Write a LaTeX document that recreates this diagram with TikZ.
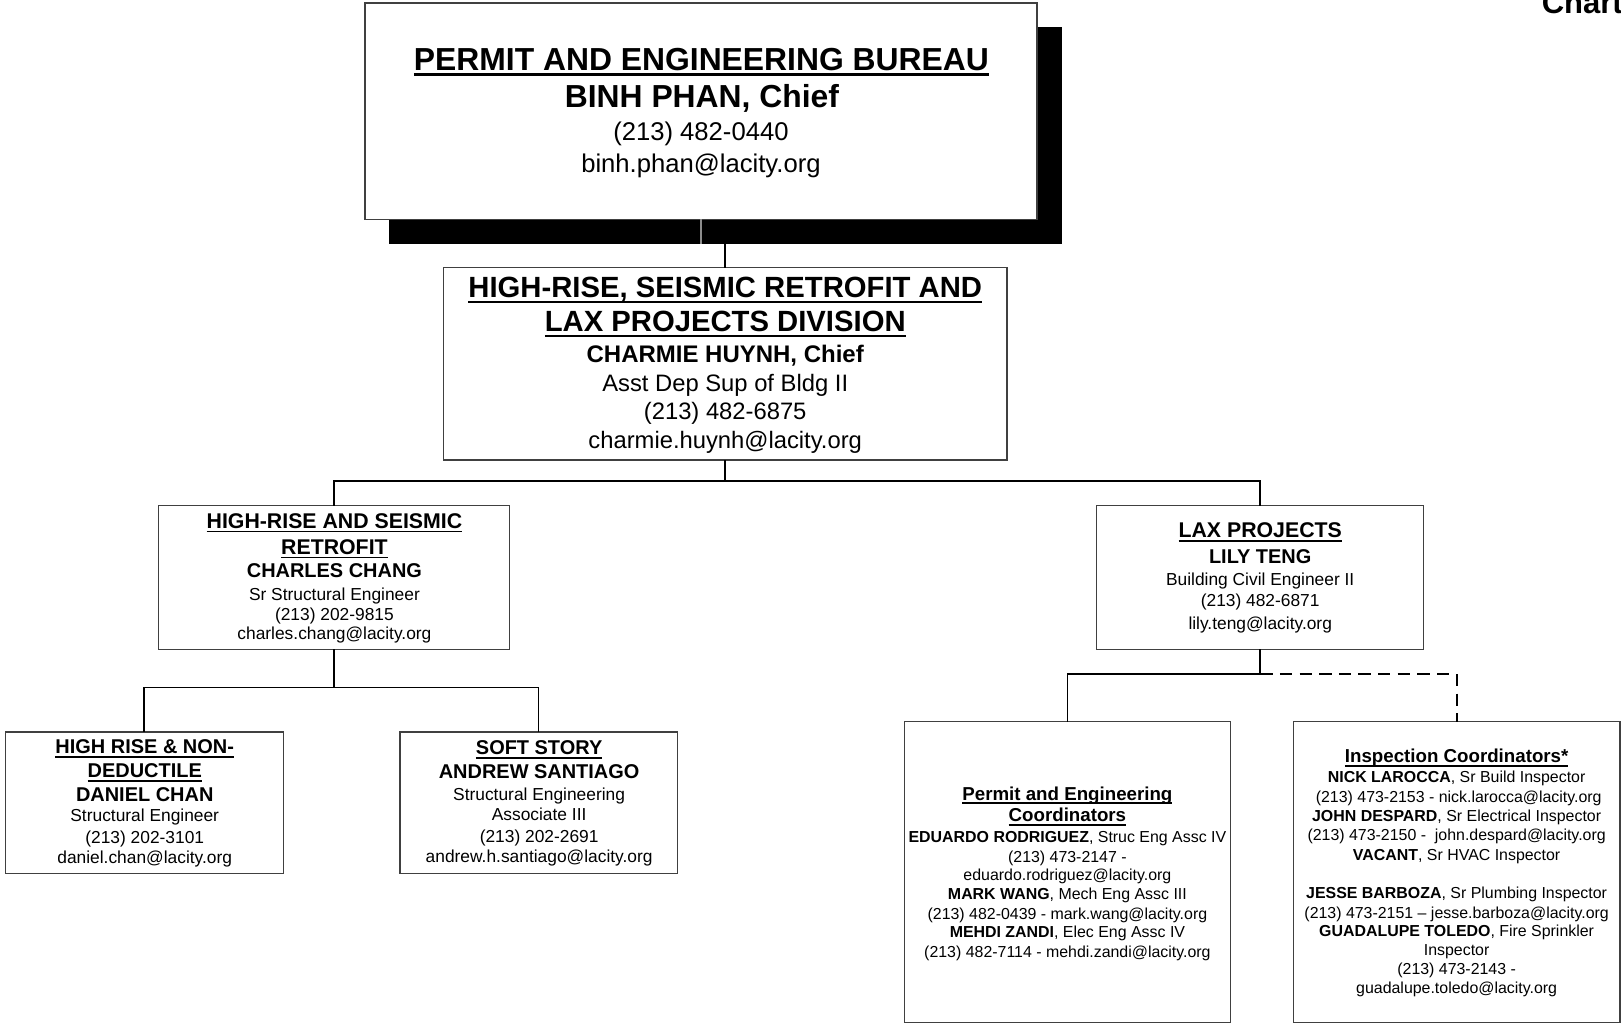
\documentclass[tikz,border=0pt]{standalone}
\usepackage{fontspec}
\setmainfont{Liberation Sans}
\newcommand\fs[1]{\fontsize{#1}{#1}\selectfont}
\newcommand\ulin[3]{\draw[line width=#3] ([yshift=-#2]#1.base west) -- ([yshift=-#2]#1.base east);}
\begin{document}
\begin{tikzpicture}[x=0.5pt,y=-0.5pt,
  box/.style={draw=black!75, line width=0.6pt, fill=white, inner sep=0pt, outer sep=0pt},
  tx/.style={inner sep=0pt, outer sep=0pt, anchor=base},
  conn/.style={draw=black, line width=0.8pt},
  dconn/.style={draw=black, line width=0.9pt, dash pattern=on 6pt off 3.5pt}]
\useasboundingbox (0,0) rectangle (1568,990);
% shadow and top box
\fill[black] (376,26) rectangle (1027,236);
\node[box, minimum width=325pt, minimum height=104.5pt] (bur) at (678,107.5) {};
\coordinate (sb) at (678,236);
\draw[black!45, line width=0.6pt] (bur.south) -- (sb);
\node[tx,font=\bfseries\fs{15.4}] (b1) at (678.5,68) {PERMIT AND ENGINEERING BUREAU};
\node[tx,font=\bfseries\fs{15.4}] (b2) at (679,104) {BINH PHAN, Chief};
\node[tx,font=\fs{12.4}] (b3) at (678,136) {(213) 482-0440};
\node[tx,font=\fs{12.4}] (b4) at (678,167) {binh.phan@lacity.org};
\ulin{b1}{2pt}{1.1pt}
% division
\node[box, minimum width=272.5pt, minimum height=93pt] (div) at (701.5,352) {};
\coordinate (dt) at (701.5,236);
\draw[conn] (dt) -- (div.north);
\node[tx,font=\bfseries\fs{14.15}] (d1) at (701.5,288) {HIGH-RISE, SEISMIC RETROFIT AND};
\node[tx,font=\bfseries\fs{14.15}] (d2) at (701.5,321) {LAX PROJECTS DIVISION};
\node[tx,font=\bfseries\fs{11.6}] (d3) at (701.5,351) {CHARMIE HUYNH, Chief};
\node[tx,font=\fs{11.5}] (d4) at (701.5,379) {Asst Dep Sup of Bldg II};
\node[tx,font=\fs{11.5}] (d5) at (701.5,406) {(213) 482-6875};
\node[tx,font=\fs{11.5}] (d6) at (701.5,434) {charmie.huynh@lacity.org};
\ulin{d1}{2pt}{1pt}
\ulin{d2}{2pt}{1pt}
% second level
\node[box, minimum width=170pt, minimum height=69.5pt] (hsr) at (323,558.5) {};
\node[box, minimum width=158pt, minimum height=69.5pt] (lax) at (1219,558.5) {};
\coordinate (j1) at (701.5,465);
\draw[conn] (div.south) -- (j1);
\draw[conn] (j1) -| (hsr.north);
\draw[conn] (j1) -| (lax.north);
\node[tx,font=\bfseries\fs{10.3}] (h1) at (323.5,511) {HIGH-RISE AND SEISMIC};
\node[tx,font=\bfseries\fs{10.3}] (h2) at (323.5,536) {RETROFIT};
\node[tx,font=\bfseries\fs{9.65}] (h3) at (323.5,559) {CHARLES CHANG};
\node[tx,font=\fs{8.4}] (h4) at (323.5,581) {Sr Structural Engineer};
\node[tx,font=\fs{8.4}] (h5) at (323.5,600) {(213) 202-9815};
\node[tx,font=\fs{8.4}] (h6) at (323.5,619) {charles.chang@lacity.org};
\ulin{h1}{1.6pt}{0.8pt}
\ulin{h2}{1.6pt}{0.8pt}
\node[tx,font=\bfseries\fs{10.3}] (l1) at (1219,520) {LAX PROJECTS};
\node[tx,font=\bfseries\fs{9.65}] (l2) at (1219,545) {LILY TENG};
\node[tx,font=\fs{8.4}] (l3) at (1219,566) {Building Civil Engineer II};
\node[tx,font=\fs{8.4}] (l4) at (1219,587) {(213) 482-6871};
\node[tx,font=\fs{8.4}] (l5) at (1219,609) {lily.teng@lacity.org};
\ulin{l1}{1.6pt}{0.8pt}
% third level left
\node[box, minimum width=134.5pt, minimum height=68.5pt] (hrn) at (139.5,776.5) {};
\node[box, minimum width=134pt, minimum height=68.5pt] (ss) at (521,776.5) {};
\coordinate (j2) at (323,665);
\draw[conn] (hsr.south) -- (j2);
\draw[conn] (j2) -| (hrn.north);
\draw[conn] (j2) -| (ss.north);
\node[tx,font=\bfseries\fs{9.65}] (r1) at (140,729) {HIGH RISE \& NON-};
\node[tx,font=\bfseries\fs{9.65}] (r2) at (140,752) {DEDUCTILE};
\node[tx,font=\bfseries\fs{9.65}] (r3) at (140,775) {DANIEL CHAN};
\node[tx,font=\fs{8.4}] (r4) at (140,795) {Structural Engineer};
\node[tx,font=\fs{8.4}] (r5) at (140,816) {(213) 202-3101};
\node[tx,font=\fs{8.4}] (r6) at (140,835) {daniel.chan@lacity.org};
\ulin{r1}{1.6pt}{0.8pt}
\ulin{r2}{1.6pt}{0.8pt}
\node[tx,font=\bfseries\fs{9.65}] (s1) at (521.5,730) {SOFT STORY};
\node[tx,font=\bfseries\fs{9.65}] (s2) at (521.5,753) {ANDREW SANTIAGO};
\node[tx,font=\fs{8.4}] (s3) at (521.5,774) {Structural Engineering};
\node[tx,font=\fs{8.4}] (s4) at (521.5,794) {Associate III};
\node[tx,font=\fs{8.4}] (s5) at (521.5,815) {(213) 202-2691};
\node[tx,font=\fs{8.4}] (s6) at (521.5,834) {andrew.h.santiago@lacity.org};
\ulin{s1}{1.6pt}{0.8pt}
% third level right
\node[box, minimum width=157.5pt, minimum height=145.5pt] (pe) at (1032.5,843.5) {};
\node[box, minimum width=158pt, minimum height=145.5pt] (ic) at (1409,843.5) {};
\coordinate (j3) at (1219,652);
\draw[conn] (lax.south) -- (j3);
\draw[conn] (j3) -| (pe.north);
\draw[dconn] (j3) -| (ic.north);
\node[tx,font=\bfseries\fs{9.05}] (p1) at (1032.5,774) {Permit and Engineering};
\node[tx,font=\bfseries\fs{9.05}] (p2) at (1032.5,795) {Coordinators};
\node[tx,font=\fs{7.7}] (p3) at (1032.5,815) {\textbf{EDUARDO RODRIGUEZ}, Struc Eng Assc IV};
\node[tx,font=\fs{7.7}] (p4) at (1032.5,834) {(213) 473-2147 -};
\node[tx,font=\fs{7.7}] (p5) at (1032.5,852) {eduardo.rodriguez@lacity.org};
\node[tx,font=\fs{7.7}] (p6) at (1032.5,870) {\textbf{MARK WANG}, Mech Eng Assc III};
\node[tx,font=\fs{7.7}] (p7) at (1032.5,889) {(213) 482-0439 - mark.wang@lacity.org};
\node[tx,font=\fs{7.7}] (p8) at (1032.5,907) {\textbf{MEHDI ZANDI}, Elec Eng Assc IV};
\node[tx,font=\fs{7.7}] (p9) at (1032.5,926) {(213) 482-7114 - mehdi.zandi@lacity.org};
\ulin{p1}{1.5pt}{0.75pt}
\ulin{p2}{1.5pt}{0.75pt}
\node[tx,font=\bfseries\fs{9.05}] (c1) at (1409,738) {Inspection Coordinators*};
\node[tx,font=\fs{7.7}] (c2) at (1409,757) {\textbf{NICK LAROCCA}, Sr Build Inspector};
\node[tx,font=\fs{7.7}] (c3) at (1411,776) {(213) 473-2153 - nick.larocca@lacity.org};
\node[tx,font=\fs{7.7}] (c4) at (1409,795) {\textbf{JOHN DESPARD}, Sr Electrical Inspector};
\node[tx,font=\fs{7.7}] (c5) at (1409,813) {(213) 473-2150 -\ \ john.despard@lacity.org};
\node[tx,font=\fs{7.7}] (c6) at (1409,832) {\textbf{VACANT}, Sr HVAC Inspector};
\node[tx,font=\fs{7.7}] (c7) at (1409,869) {\textbf{JESSE BARBOZA}, Sr Plumbing Inspector};
\node[tx,font=\fs{7.7}] (c8) at (1409,888) {(213) 473-2151 – jesse.barboza@lacity.org};
\node[tx,font=\fs{7.7}] (c9) at (1409,906) {\textbf{GUADALUPE TOLEDO}, Fire Sprinkler};
\node[tx,font=\fs{7.7}] (c10) at (1409,924) {Inspector};
\node[tx,font=\fs{7.7}] (c11) at (1409,943) {(213) 473-2143 -};
\node[tx,font=\fs{7.7}] (c12) at (1409,961) {guadalupe.toledo@lacity.org};
\ulin{c1}{1.5pt}{0.75pt}
% cut-off heading (cut by the page edge, as in the reference)
\node[inner sep=0pt, anchor=base west, font=\bfseries\fs{15}] (chart) at (1491,13) {Chart};
\end{tikzpicture}
\end{document}
